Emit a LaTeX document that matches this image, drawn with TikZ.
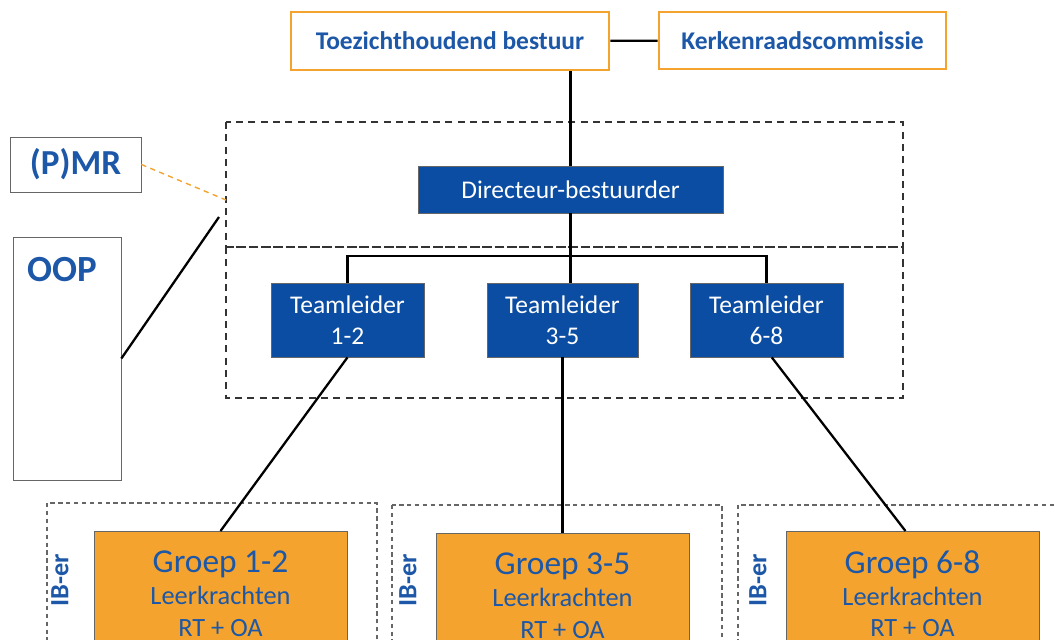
\documentclass[tikz,border=0pt]{standalone}
\usepackage{fontspec}
\setmainfont{Carlito}
\usepackage{xcolor}
\usetikzlibrary{positioning, calc}

\definecolor{orgblue}{HTML}{0B4DA2}
\definecolor{orgtext}{HTML}{1C57A8}
\definecolor{orgorange}{HTML}{F4A42E}

\begin{document}
\begin{tikzpicture}[
    board/.style={rectangle, draw=orgorange, line width=1.5pt, fill=white, minimum height=1.14cm, align=center, text=orgtext, font=\fontsize{14.5}{16}\selectfont\bfseries},
    lead/.style={rectangle, draw=black!60, fill=orgblue, align=center, text=white, font=\fontsize{14.5}{17.5}\selectfont},
    groep/.style={rectangle, draw=black!60, fill=orgorange, align=center, text=orgtext, minimum width=5.06cm, minimum height=2.5cm, anchor=north, font=\fontsize{15}{18}\selectfont},
    side/.style={rectangle, draw=black!60, fill=white, text=orgtext, font=\fontsize{20}{22}\selectfont\bfseries},
    zone/.style={draw=black!80, dashed, dash pattern=on 4pt off 3pt, line width=0.9pt},
    klas/.style={draw=black!60, dash pattern=on 2.5pt off 2pt, line width=0.6pt},
    ib/.style={rotate=90, text=orgtext, font=\fontsize{15}{16}\selectfont\bfseries},
    link/.style={line width=1.3pt, black}
]
    \clip (0,0) rectangle (21.1,-12.78);

    % ============================================================
    % TOP: BESTUUR
    % ============================================================
    \node[board, minimum width=6.36cm, minimum height=1.16cm] (toez) at (9.0,-0.82) {Toezichthoudend bestuur};
    \node[board, minimum width=5.74cm] (kerk) at (16.05,-0.81) {Kerkenraadscommissie};
    \draw[link] (toez) -- (kerk);

    % ============================================================
    % DIRECTIE & TEAMLEIDERS
    % ============================================================
    \draw[zone] (4.52,-2.44) rectangle (18.06,-4.94);
    \draw[zone] (4.52,-4.94) rectangle (18.06,-7.96);

    \node[lead, minimum width=6.1cm, minimum height=0.94cm] (dir) at (11.41,-3.79) {Directeur-bestuurder};

    \node[lead, minimum width=3.06cm, minimum height=1.48cm] (tl1) at (6.95,-6.4) {Teamleider\\1-2};
    \node[lead, minimum width=3.02cm, minimum height=1.48cm] (tl2) at (11.25,-6.4) {Teamleider\\3-5};
    \node[lead, minimum width=3.06cm, minimum height=1.48cm] (tl3) at (15.33,-6.4) {Teamleider\\6-8};

    \draw[link] (dir.north |- toez.south) -- (dir.north);
    \draw[link] (dir.south) -- (dir.south |- tl2.north);
    \draw[link] (tl1.north) -- ++(0,0.54) -| (tl3.north);

    % ============================================================
    % LEFT: (P)MR & OOP
    % ============================================================
    \node[side, minimum width=2.62cm, minimum height=1.1cm] (pmr) at (1.51,-3.29) {(P)MR};
    \node[side, minimum width=2.16cm, minimum height=4.86cm] (oop) at (1.34,-7.17) {};
    \node[text=orgtext, font=\fontsize{21}{22}\selectfont\bfseries, anchor=west] (ooplabel) at (0.42,-5.4) {OOP};

    \coordinate (pmr-end) at (4.52,-4.0);
    \coordinate (oop-end) at (4.38,-4.34);
    \draw[orgorange, dashed, dash pattern=on 3pt off 2.5pt, line width=0.8pt] (pmr.east) -- (pmr-end);
    \draw[link] (oop.east) -- (oop-end);

    % ============================================================
    % BOTTOM: GROEPEN
    % ============================================================
    \draw[klas] (0.94,-10.06) rectangle (7.54,-13.5);
    \draw[klas] (7.84,-10.1) rectangle (14.44,-13.5);
    \draw[klas] (14.76,-10.1) rectangle (21.4,-13.5);

    \node[groep] (g1) at (4.41,-10.62) {{\fontsize{19}{20}\selectfont Groep 1-2}\\Leerkrachten\\RT + OA};
    \node[groep] (g2) at (11.25,-10.66) {{\fontsize{19}{20}\selectfont Groep 3-5}\\Leerkrachten\\RT + OA};
    \node[groep] (g3) at (18.25,-10.62) {{\fontsize{19}{20}\selectfont Groep 6-8}\\Leerkrachten\\RT + OA};

    \node[ib] (ib1) at (1.2,-11.6) {IB-er};
    \node[ib] (ib2) at (8.16,-11.6) {IB-er};
    \node[ib] (ib3) at (15.16,-11.6) {IB-er};

    \draw[link] (tl1.south) -- (g1.north);
    \draw[link] (tl2.south) -- (g2.north);
    \draw[link] ([xshift=3pt]tl3.south) -- ([xshift=-4pt]g3.north);

\end{tikzpicture}
\end{document}
